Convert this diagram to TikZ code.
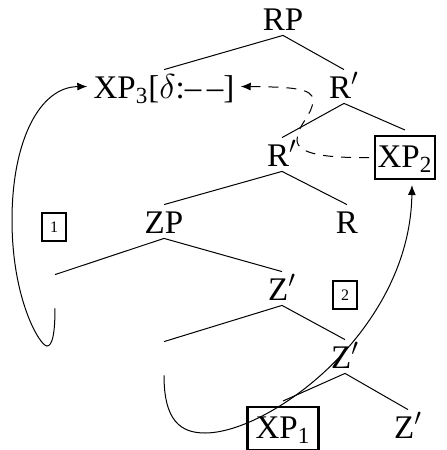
\documentclass[tikz,border=0pt]{standalone}
\usepackage{fontspec}
\setmainfont{Liberation Serif}
\usetikzlibrary{arrows.meta}

\begin{document}
\begin{tikzpicture}[x=0.5pt,y=-0.5pt,
  tn/.style={anchor=base,inner sep=0pt,text height=14pt,text depth=2.5pt,
             font=\fontsize{16.5}{19}\selectfont},
  boxed/.style={tn,draw,line width=1.2pt,inner ysep=3.5pt,text height=12pt,
                outer sep=3pt},
  numbox/.style={draw,line width=1.2pt,inner sep=0pt,minimum width=12pt,
                 minimum height=14pt,font=\fontsize{8}{9}\selectfont},
  branch/.style={line width=0.5pt},
  move/.style={line width=0.5pt,-{Latex[length=5pt,width=4pt]}},
  agree/.style={move,dashed,dash pattern=on 5pt off 4pt}]
\useasboundingbox (0,0) rectangle (446,450);

% tree nodes (placed by baseline)
\node[tn] (RP)  at (283,30)  {RP};
\node[tn,inner xsep=3pt] (XP3) at (164,98) {XP\textsubscript{3}[$\delta$:\textendash\,\textendash]};
\node[tn] (R1)  at (344,98)  {R$'$};
\node[tn] (R2)  at (282,166) {R$'$};
\node[boxed,minimum width=30pt] (XP2) at (405,167) {XP\textsubscript{2}};
\node[tn] (ZP)  at (164,233) {ZP};
\node[tn] (R)   at (347,233) {R};
\node[tn] (e1)  at (55,303)  {};
\node[tn] (Z1)  at (282,300) {Z$'$};
\node[tn] (e2)  at (164,370) {};
\node[tn] (Z2)  at (345,368) {Z$'$};
\node[boxed,minimum width=35.5pt] (XP1) at (283,438) {XP\textsubscript{1}};
\node[tn] (Z3)  at (408,438) {Z$'$};

% step labels
\node[numbox] (b1) at (54,227)  {1};
\node[numbox] (b2) at (345,295) {2};

% branches
\draw[branch] (XP3.north) -- (RP.south) -- (R1.north);
\draw[branch] (R2.north) -- (R1.south) -- (XP2.north);
\draw[branch] (ZP.north) -- (R2.south) -- (R.north);
\draw[branch] (e1.north) -- (ZP.south) -- (Z1.north);
\draw[branch] (e2.north) -- (Z1.south) -- (Z2.north);
\draw[branch] (XP1.north) -- (Z2.south) -- (Z3.north);

% movement paths
\coordinate (m1a) at (47,346);
\coordinate (m1b) at (12,220);
\draw[move] (e1.south) .. controls (55,335) and (52,346) .. (m1a)
  .. controls (40,346) and (12,300) .. (m1b)
  .. controls (12,140) and (40,87) .. (XP3.west);

\coordinate (m2a) at (205,433);
\draw[move] (e2.south) .. controls (164,420) and (180,433) .. (m2a)
  .. controls (270,433) and (410,330) .. ([xshift=3.5pt]XP2.south);

% agreement path
\coordinate (d1) at (297,140);
\coordinate (d2) at (313,100);
\draw[agree] (XP2.west) .. controls (330,158) and (297,155) .. (d1)
  .. controls (297,125) and (313,115) .. (d2)
  .. controls (313,88) and (290,87) .. (XP3.east);
\end{tikzpicture}
\end{document}
